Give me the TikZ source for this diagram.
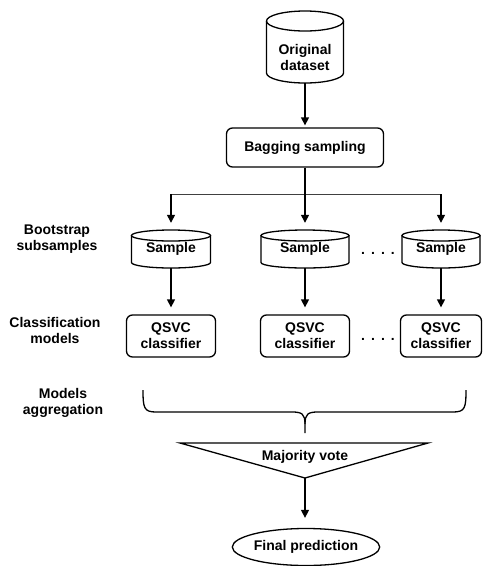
\documentclass[tikz,border=0pt]{standalone}
\usepackage{fontspec}
\setmainfont{Liberation Sans}
\usetikzlibrary{arrows.meta,shapes.geometric}
\tikzset{
  lbl/.style={font=\bfseries\fontsize{14}{16}\selectfont, align=center, inner sep=0pt},
  ln/.style={line width=1.3pt},
  thinln/.style={line width=0.9pt, draw=black!75},
  arr/.style={ln, -{Triangle[length=8pt,width=8pt]}},
  box/.style={draw, ln, rounded corners=6pt, lbl},
}
\begin{document}
\begin{tikzpicture}[x=1pt,y=1pt]
\useasboundingbox (0,0) rectangle (483,-566);
% original dataset cylinder
\draw[ln] (266.5,-21) -- (266.5,-73) arc (180:360:38.5 and 10) -- (343.5,-21);
\draw[ln] (305,-21) ellipse (38.5 and 10);
\node[lbl] (orig) at (305,-57) {Original\\dataset};
\coordinate (origbot) at (305,-83);
% bagging
\node[box, minimum width=157, minimum height=39] (bag) at (305,-147.5) {Bagging sampling};
\draw[arr, shorten >=2pt] (origbot) -- (bag.north);
\coordinate (split) at (305,-194);
% samples
\node[lbl, minimum width=79, minimum height=38] (s1) at (171,-249) {Sample};
\node[lbl, minimum width=88, minimum height=38] (s2) at (305,-249) {Sample};
\node[lbl, minimum width=78, minimum height=38] (s3) at (441,-249) {Sample};
\draw[ln] (131.5,-235.5) -- (131.5,-262.5) arc (180:360:39.5 and 5.5) -- (210.5,-235.5);
\draw[ln] (171,-235.5) ellipse (39.5 and 5.5);
\draw[ln] (261,-235.5) -- (261,-262.5) arc (180:360:44 and 5.5) -- (349,-235.5);
\draw[ln] (305,-235.5) ellipse (44 and 5.5);
\draw[ln] (402,-235.5) -- (402,-262.5) arc (180:360:39 and 5.5) -- (480,-235.5);
\draw[ln] (441,-235.5) ellipse (39 and 5.5);
\draw[ln] (bag.south) -- (split);
\draw[thinln] (s1.north |- split) -- (s3.north |- split);
\draw[arr, shorten >=7pt] (s1.north |- split) -- (s1.north);
\draw[arr, shorten >=7pt] (split) -- (s2.north);
\draw[arr, shorten >=7pt] (s3.north |- split) -- (s3.north);
\node[lbl, anchor=base] (d1) at (378,-254) {.\hspace{6pt}.\hspace{6pt}.\hspace{6pt}.};
% classifiers
\node[box, minimum width=89, minimum height=42] (q1) at (171,-336) {QSVC\\classifier};
\node[box, minimum width=89, minimum height=42] (q2) at (305,-336) {QSVC\\classifier};
\node[box, minimum width=81, minimum height=42] (q3) at (441,-336) {QSVC\\classifier};
\draw[arr, shorten >=7pt] (s1.south) -- (q1.north);
\draw[arr, shorten >=7pt] (s2.south) -- (q2.north);
\draw[arr, shorten >=7pt] (s3.south) -- (q3.north);
\node[lbl, anchor=base] (d2) at (378,-340) {.\hspace{6pt}.\hspace{6pt}.\hspace{6pt}.};
% left labels
\node[lbl] (lb) at (57,-239) {Bootstrap\\subsamples};
\node[lbl] (lc) at (55,-330) {Classification\\models};
\node[lbl] (lm) at (63,-403) {Models\\aggregation};
% brace
\coordinate (tip) at (305,-433);
\draw[ln] (143,-390) .. controls (143,-408) and (144,-412) .. (156,-412) -- (292,-412)
  .. controls (302,-412) and (305,-414) .. (305,-424) -- (tip);
\draw[ln] (466,-390) .. controls (466,-408) and (465,-412) .. (453,-412) -- (318,-412)
  .. controls (308,-412) and (305,-414) .. (305,-424);
% majority vote
\draw[ln, line join=miter] (180,-443) -- (428,-443) -- (305,-478) -- cycle;
\node[lbl] (mv) at (305,-457) {Majority vote};
\coordinate (apex) at (305,-478);
% final
\node[draw, ellipse, ln, lbl, minimum width=126, minimum height=37] (fin) at (306,-547) {Final prediction};
\draw[arr, shorten >=10pt] (apex) -- (apex |- fin.north);
\end{tikzpicture}
\end{document}
